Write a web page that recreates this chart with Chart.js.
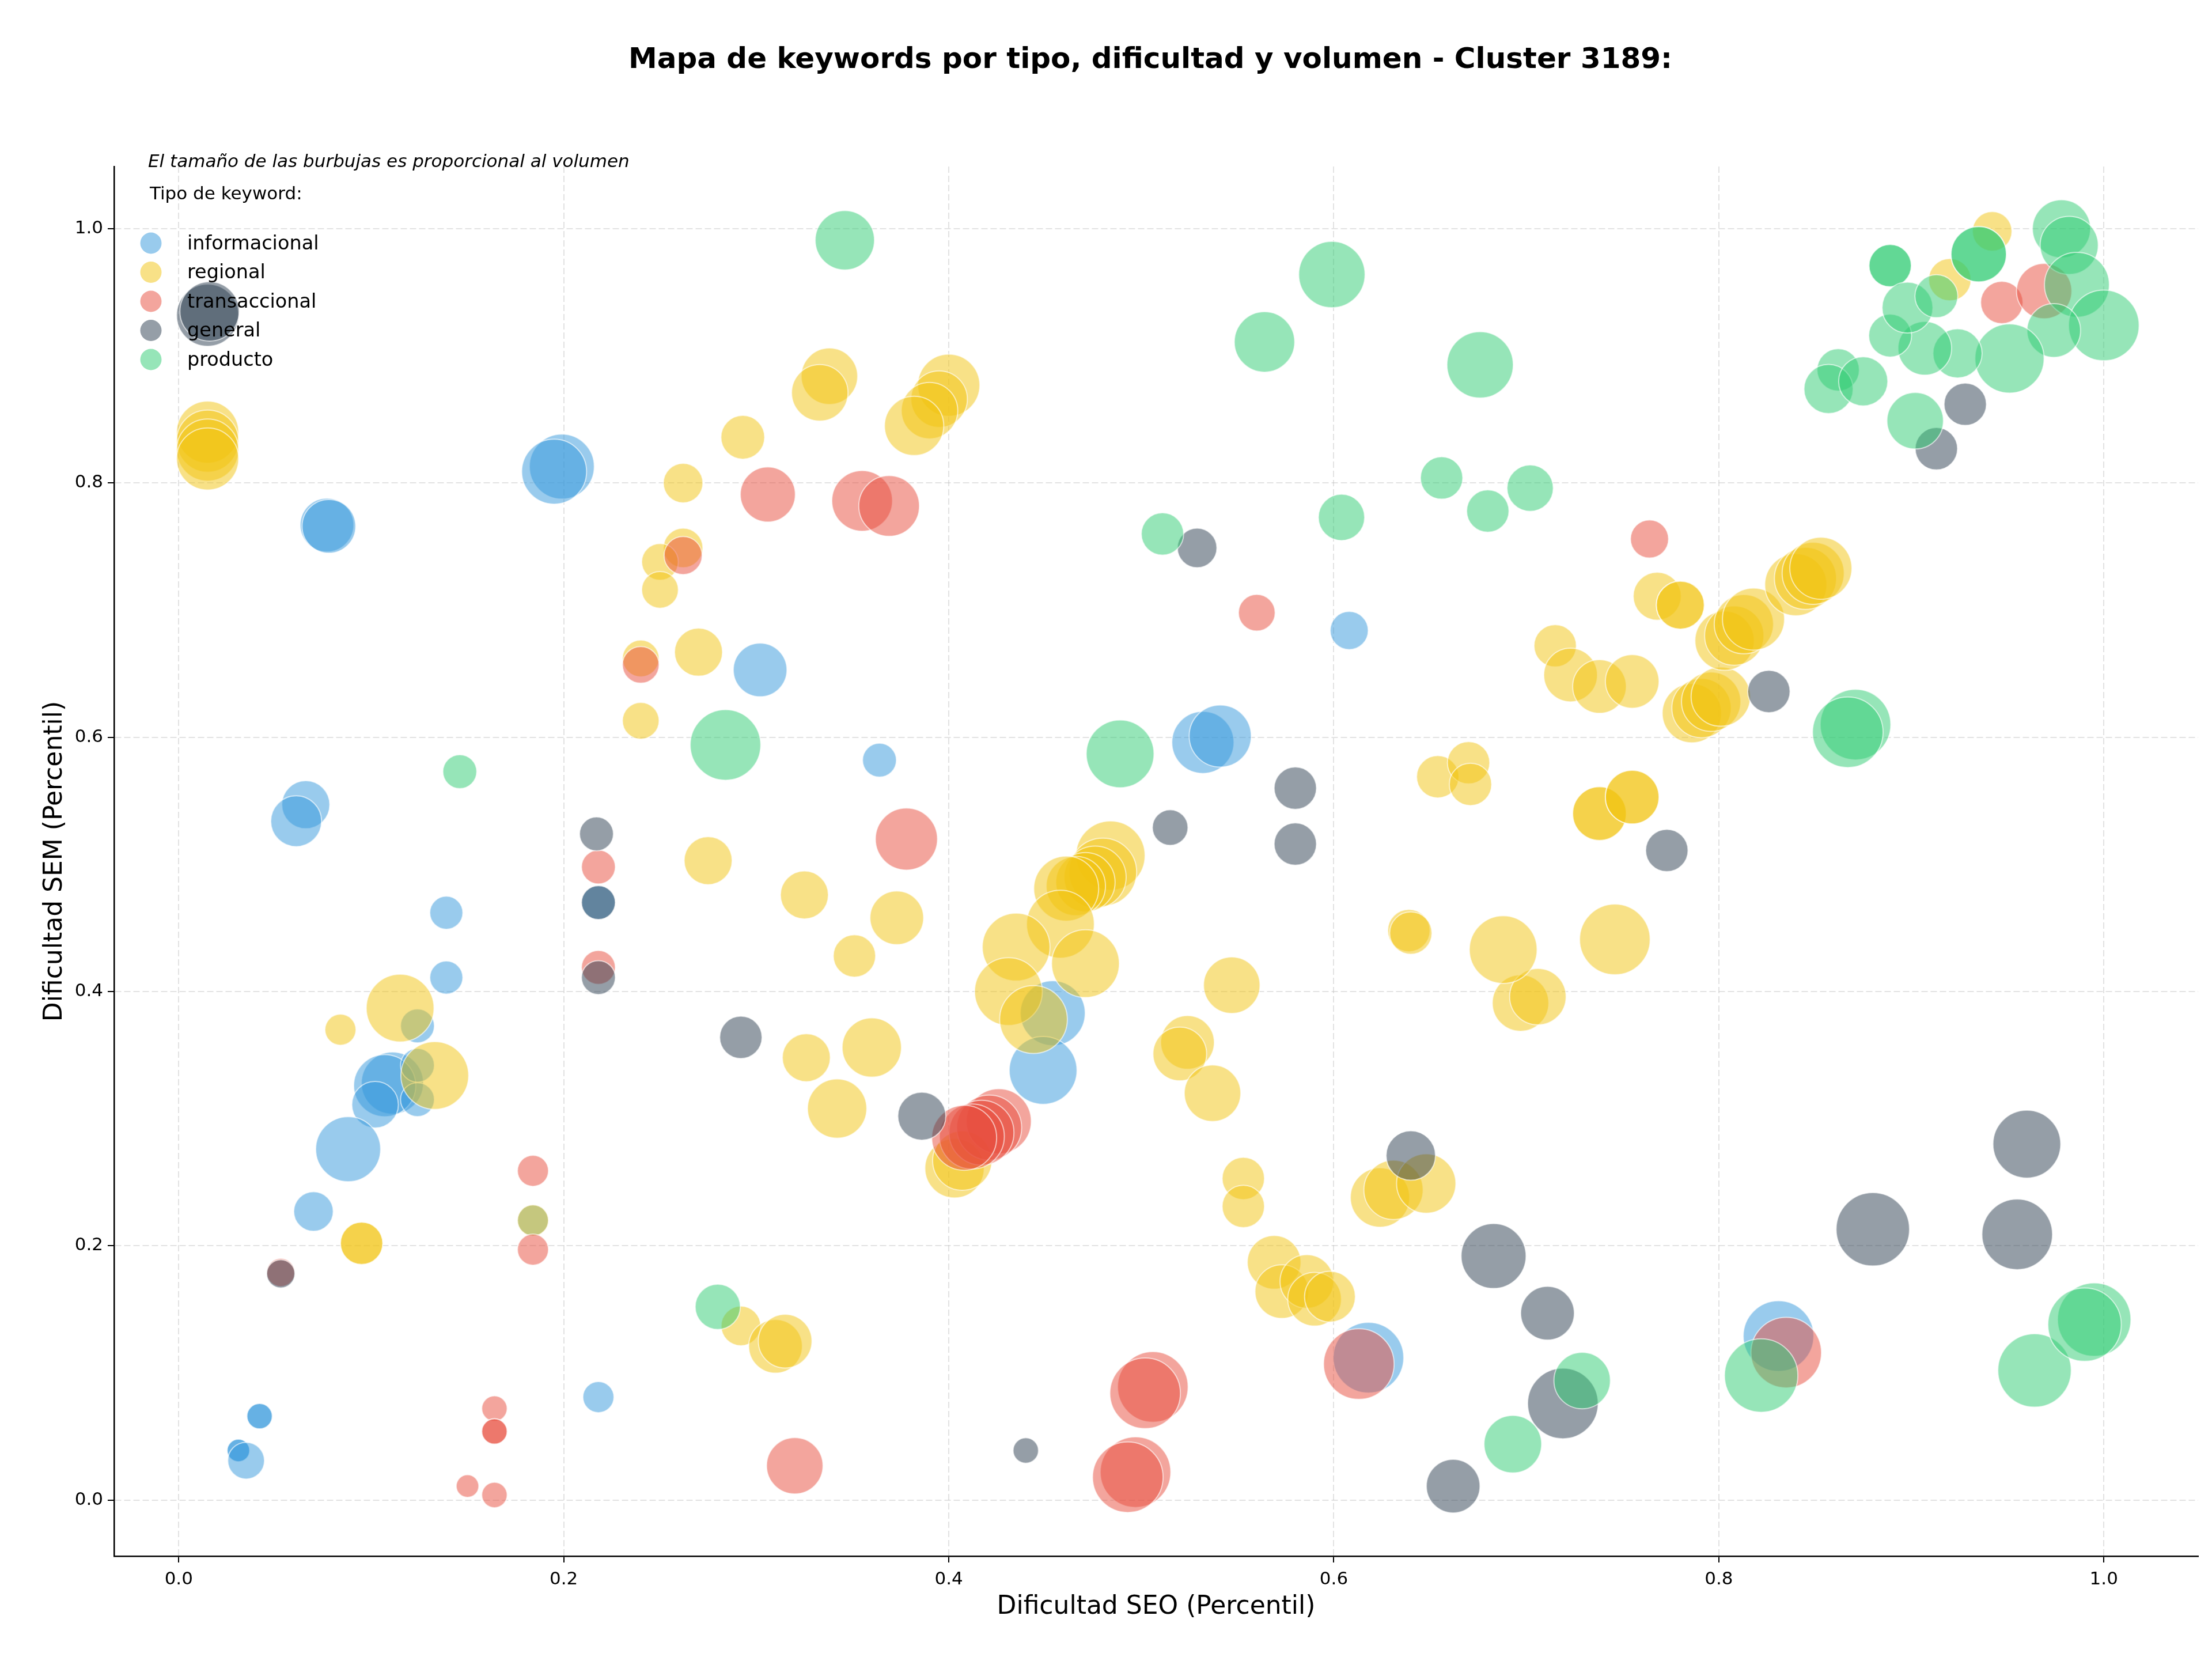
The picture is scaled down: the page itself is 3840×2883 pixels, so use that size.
<!DOCTYPE html>
<html>
<head>
<meta charset="utf-8">
<script src="https://cdn.jsdelivr.net/npm/chart.js@4.4.0/dist/chart.umd.min.js"></script>
<style>html,body{margin:0;padding:0;background:#fff}canvas{display:block}</style>
</head>
<body>
<canvas id="c" width="3840" height="2883" style="width:3840px;height:2883px"></canvas>
<script>
// ---------------- DATA ----------------
const categories = ['informacional', 'regional', 'transaccional', 'general', 'producto'];
const xTickValues = [0.0, 0.2, 0.4, 0.6, 0.8, 1.0];
const xTickLabels = ['0.0', '0.2', '0.4', '0.6', '0.8', '1.0'];
const yTickValues = [0.0, 0.2, 0.4, 0.6, 0.8, 1.0];
const yTickLabels = ['0.0', '0.2', '0.4', '0.6', '0.8', '1.0'];

// informacional
const infoSEO = [0.199,0.195,0.077,0.078,0.302,0.364,0.608,0.532,0.541,0.066,0.061,0.139,0.139,0.124,0.111,0.107,0.102,0.124,0.124,0.088,0.070,0.042,0.042,0.031,0.031,0.035,0.218,0.454,0.449,0.618,0.831,0.218,0.184];
const infoSEM = [0.813,0.809,0.767,0.766,0.653,0.582,0.684,0.596,0.601,0.547,0.534,0.462,0.411,0.373,0.328,0.326,0.311,0.342,0.315,0.276,0.227,0.066,0.066,0.039,0.039,0.031,0.081,0.383,0.338,0.112,0.129,0.470,0.220];
const infoVol = [5290,5290,3610,3610,3610,1440,1820,4840,4840,2890,3240,1370,1370,1440,4840,4840,2720,1440,1440,5290,1960,810,810,640,640,1690,1210,5290,5760,6250,6250,1440,1210];

// regional
const regSEO = [0.015,0.015,0.015,0.015,0.338,0.333,0.400,0.395,0.390,0.382,
                0.293,0.262,0.262,0.250,0.250,0.270,0.240,0.240,0.275,0.325,
                0.351,0.373,0.360,0.326,0.342,0.084,0.115,0.133,0.095,0.095,
                0.184,0.292,0.310,0.315,0.484,0.480,0.476,0.471,0.466,0.461,
                0.458,0.435,0.471,0.431,0.444,0.547,0.524,0.520,0.537,0.553,
                0.553,0.403,0.407,0.569,0.573,0.586,0.590,0.598,0.624,0.631,
                0.648,0.697,0.706,0.746,0.688,0.639,0.640,0.654,0.670,0.671,
                0.715,0.723,0.738,0.755,0.768,0.780,0.780,0.738,0.738,0.755,
                0.755,0.786,0.791,0.796,0.801,0.803,0.808,0.813,0.818,0.840,
                0.845,0.849,0.853,0.942,0.920];
const regSEM = [0.840,0.833,0.826,0.819,0.884,0.871,0.877,0.866,0.857,0.845,
                0.836,0.800,0.749,0.738,0.716,0.667,0.662,0.613,0.503,0.476,
                0.428,0.458,0.356,0.348,0.308,0.370,0.387,0.334,0.202,0.202,
                0.220,0.137,0.121,0.125,0.507,0.494,0.490,0.486,0.483,0.481,
                0.453,0.435,0.422,0.400,0.378,0.405,0.360,0.351,0.320,0.253,
                0.231,0.261,0.267,0.187,0.164,0.172,0.158,0.160,0.238,0.244,
                0.249,0.391,0.396,0.441,0.433,0.448,0.446,0.569,0.580,0.563,
                0.672,0.649,0.640,0.644,0.711,0.704,0.704,0.540,0.540,0.553,
                0.553,0.619,0.623,0.628,0.632,0.676,0.680,0.689,0.693,0.720,
                0.725,0.729,0.733,0.998,0.960];
const regVol = [4840,4840,4840,4840,4000,4000,4840,4000,4000,4410,
                2400,1960,1960,1690,1690,2890,1690,1690,2890,2890,
                2250,3610,4410,2890,4410,1210,5760,5760,2250,2250,
                1210,1960,3610,3610,6000,5760,4840,4410,4410,5290,
                5760,5760,5760,5760,5760,4000,3610,3610,4000,2250,
                2250,4410,4410,3610,3610,3610,3610,3240,4410,4410,
                4410,4000,4000,6250,5760,2250,2250,2250,2250,2250,
                2250,3610,3610,3610,2890,2890,2890,3610,3610,3610,
                3610,4410,4410,4410,4410,4410,4410,4410,4840,4840,
                4840,4840,4840,1960,2250];

// transaccional
const traSEO = [0.306,0.355,0.369,0.262,0.240,0.218,0.218,0.184,0.184,0.053,
                0.164,0.164,0.164,0.150,0.164,0.378,0.426,0.421,0.417,0.412,
                0.408,0.320,0.506,0.502,0.497,0.493,0.613,0.835,0.560,0.764,
                0.947,0.969];
const traSEM = [0.791,0.786,0.782,0.743,0.657,0.498,0.419,0.259,0.197,0.179,
                0.072,0.054,0.054,0.011,0.004,0.520,0.298,0.293,0.289,0.286,
                0.285,0.027,0.089,0.084,0.022,0.018,0.107,0.116,0.698,0.756,
                0.942,0.951];
const traVol = [3800,4620,4620,1820,1690,1440,1440,1210,1210,1000,
                810,810,810,640,810,4840,5290,5290,5290,5290,
                5290,4000,6250,6250,6250,6250,6250,6250,1690,1820,
                2250,3840];

// general
const genSEO = [0.015,0.016,0.217,0.218,0.218,0.053,0.292,0.386,0.440,0.529,
                0.515,0.580,0.580,0.640,0.683,0.711,0.719,0.662,0.826,0.773,
                0.928,0.913,0.960,0.880,0.955];
const genSEM = [0.932,0.935,0.524,0.470,0.411,0.178,0.364,0.302,0.039,0.749,
                0.529,0.560,0.516,0.271,0.192,0.147,0.076,0.011,0.636,0.511,
                0.862,0.827,0.280,0.213,0.209];
const genVol = [4840,4410,1440,1440,1440,1000,2250,2890,810,1960,
                1590,2250,2250,3060,5290,3610,6250,3610,2250,2250,
                2250,2250,5760,6760,6250];

// producto
const proSEO = [0.346,0.599,0.564,0.676,0.656,0.604,0.680,0.702,0.511,0.284,
                0.489,0.146,0.280,0.693,0.729,0.822,0.964,0.995,0.990,0.871,
                0.867,0.889,0.889,0.935,0.935,0.978,0.982,0.986,1.000,0.974,
                0.951,0.924,0.907,0.889,0.898,0.913,0.862,0.857,0.875,0.902];
const proSEM = [0.991,0.964,0.911,0.893,0.804,0.773,0.778,0.796,0.760,0.594,
                0.587,0.573,0.152,0.044,0.094,0.098,0.102,0.142,0.138,0.610,
                0.604,0.971,0.971,0.980,0.980,1.000,0.987,0.956,0.924,0.920,
                0.898,0.902,0.906,0.916,0.938,0.947,0.889,0.874,0.880,0.849];
const proVol = [4410,5520,4580,5520,2250,2690,2250,2690,2250,6250,
                5760,1440,2560,4160,4000,6760,6760,6760,6760,6250,
                6250,2250,2250,3840,3840,4240,4240,5290,6250,3610,
                6000,3030,3610,2310,3240,2310,2250,3030,3030,4000];

// ---------------- RENDER ----------------
const FONT = 'DejaVu Sans';
const PX_PER_SQRT_VOL = 0.7745;
const colors = {
  informacional: '52,152,219',
  regional: '241,196,15',
  transaccional: '231,76,60',
  general: '44,62,80',
  producto: '46,204,113'
};
function toPoints(xs, ys, vs) {
  return xs.map((x, i) => ({ x: x, y: ys[i], r: Math.sqrt(vs[i]) * PX_PER_SQRT_VOL }));
}
const seriesData = [
  toPoints(infoSEO, infoSEM, infoVol),
  toPoints(regSEO, regSEM, regVol),
  toPoints(traSEO, traSEM, traVol),
  toPoints(genSEO, genSEM, genVol),
  toPoints(proSEO, proSEM, proVol)
];
const datasets = categories.map((name, i) => ({
  label: name,
  data: seriesData[i],
  backgroundColor: 'rgba(' + colors[name] + ',0.5)',
  borderColor: 'rgba(255,255,255,0.6)',
  borderWidth: 2,
  hoverBorderWidth: 2,
  order: categories.length - i
}));

const titleText = 'Mapa de keywords por tipo, dificultad y volumen - Cluster 3189:';
const noteText = 'El tamaño de las burbujas es proporcional al volumen';
const legendTitle = 'Tipo de keyword:';

const overlay = {
  id: 'overlay',
  beforeDraw(chart) {
    const c = chart.ctx;
    c.save();
    c.fillStyle = '#ffffff';
    c.fillRect(0, 0, chart.width, chart.height);
    c.restore();
  },
  afterDraw(chart) {
    const c = chart.ctx;
    const a = chart.chartArea;
    c.save();
    c.fillStyle = '#000';
    c.textBaseline = 'alphabetic';
    c.textAlign = 'center';
    c.font = 'bold 50px "' + FONT + '"';
    c.fillText(titleText, 1997, 118);
    c.textAlign = 'left';
    c.font = 'italic 31px "' + FONT + '"';
    c.fillText(noteText, a.left + 59, a.top + 1);
    c.font = '31px "' + FONT + '"';
    c.fillText(legendTitle, a.left + 62, a.top + 57);
    c.font = '33.5px "' + FONT + '"';
    categories.forEach((name, i) => {
      const cy = a.top + 133 + i * 50.5;
      c.beginPath();
      c.arc(a.left + 64, cy, 18.5, 0, Math.PI * 2);
      c.fillStyle = 'rgba(' + colors[name] + ',0.5)';
      c.fill();
      c.fillStyle = '#000';
      c.fillText(name, a.left + 127, cy + 10.5);
    });
    c.restore();
  }
};

new Chart(document.getElementById('c'), {
  type: 'bubble',
  data: { datasets: datasets },
  plugins: [overlay],
  options: {
    responsive: false,
    animation: false,
    devicePixelRatio: 1,
    layout: { autoPadding: false, padding: { top: 289, right: 24, bottom: 0, left: 0 } },
    plugins: {
      legend: { display: false },
      title: { display: false },
      tooltip: { enabled: false }
    },
    scales: {
      x: {
        type: 'linear',
        min: -0.0336,
        max: 1.049,
        afterFit: s => { s.height = 182; s.paddingLeft = 0; s.paddingRight = 0; },
        afterBuildTicks: s => { s.ticks = xTickValues.map(v => ({ value: v })); },
        ticks: {
          callback: (v, i) => xTickLabels[i],
          font: { family: FONT, size: 31 },
          color: '#000',
          padding: 11,
          maxRotation: 0,
          autoSkip: false
        },
        grid: {
          color: 'rgba(190,190,190,0.45)',
          lineWidth: 2,
          tickLength: 11,
          tickColor: '#000',
          tickWidth: 2,
          tickBorderDash: []
        },
        border: { display: true, color: '#000', width: 2.5, dash: [11, 5] },
        title: {
          display: true,
          text: 'Dificultad SEO (Percentil)',
          font: { family: FONT, size: 44 },
          color: '#000',
          padding: { top: 0, bottom: 67 }
        }
      },
      y: {
        type: 'linear',
        min: -0.0441,
        max: 1.049,
        afterFit: s => { s.width = 198; s.paddingTop = 0; s.paddingBottom = 0; },
        afterBuildTicks: s => { s.ticks = yTickValues.map(v => ({ value: v })); },
        ticks: {
          callback: (v, i) => yTickLabels[i],
          font: { family: FONT, size: 31 },
          color: '#000',
          padding: 8,
          autoSkip: false
        },
        grid: {
          color: 'rgba(190,190,190,0.45)',
          lineWidth: 2,
          tickLength: 11,
          tickColor: '#000',
          tickWidth: 2,
          tickBorderDash: []
        },
        border: { display: true, color: '#000', width: 2.5, dash: [11, 5] },
        title: {
          display: true,
          text: 'Dificultad SEM (Percentil)',
          font: { family: FONT, size: 44 },
          color: '#000',
          padding: { top: 69, bottom: 0 }
        }
      }
    }
  }
});
</script>
</body>
</html>
